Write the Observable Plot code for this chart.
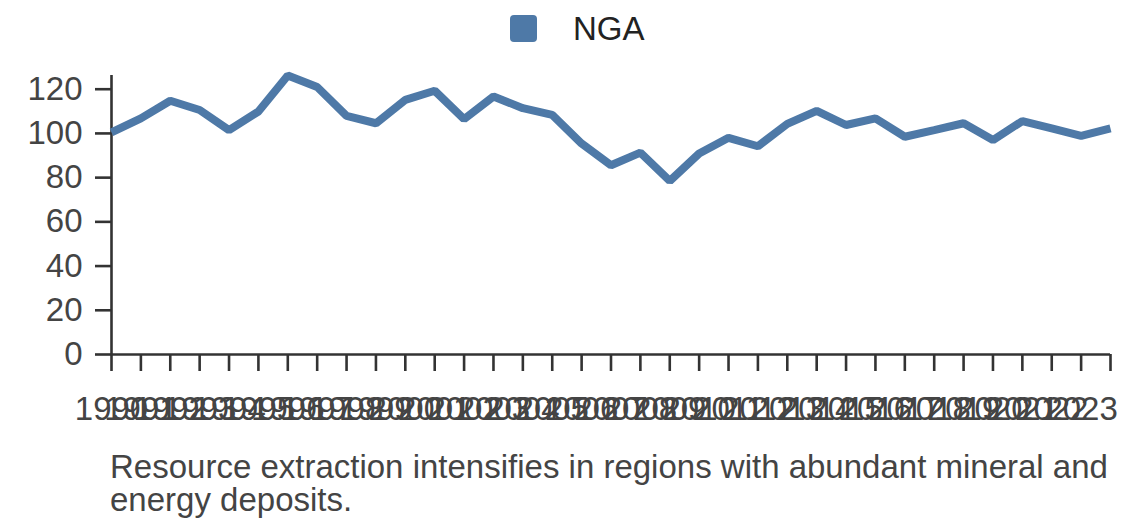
<!DOCTYPE html>
<html>
<head>
<meta charset="utf-8">
<script src="https://cdn.jsdelivr.net/npm/d3@7"></script>
<script src="https://cdn.jsdelivr.net/npm/@observablehq/plot@0.6"></script>
<style>
  html, body { margin: 0; padding: 0; background: #fff; }
  body { width: 1140px; height: 528px; overflow: hidden; font-family: "Liberation Sans", Arial, sans-serif; }
  #legend { height: 57px; display: flex; align-items: center; padding-left: 510px; box-sizing: border-box; }
  #legend .sw { width: 27px; height: 27px; border-radius: 4px; margin-right: 36px; }
  #legend .lb { font-size: 33px; line-height: 33px; color: #222; }
  #chart svg { display: block; }
  #caption { margin-top: 13px; padding-left: 110px; width: 1020px; font-size: 33px; line-height: 33px; color: #444; }
</style>
</head>
<body>
<div id="legend"></div>
<div id="chart"></div>
<div id="caption"></div>
<script>
const seriesName = "NGA";
const seriesColor = "#4e79a7";
const years = [1990, 1991, 1992, 1993, 1994, 1995, 1996, 1997, 1998, 1999,
               2000, 2001, 2002, 2003, 2004, 2005, 2006, 2007, 2008, 2009,
               2010, 2011, 2012, 2013, 2014, 2015, 2016, 2017, 2018, 2019,
               2020, 2021, 2022, 2023, 2024];
const tickLabels = ["1990", "1991", "1992", "1993", "1994", "1995", "1996", "1997", "1998", "1999",
                    "2000", "2001", "2002", "2003", "2004", "2005", "2006", "2007", "2008", "2009",
                    "2010", "2011", "2012", "2013", "2014", "2015", "2016", "2017", "2018", "2019",
                    "2020", "2021", "2022", "2023", ""];
const values = [100.5, 106.8, 114.8, 110.6, 101.5, 109.9, 126.2, 121.0, 107.9, 104.6,
                115.2, 119.3, 106.5, 116.7, 111.4, 108.4, 95.4, 85.6, 91.3, 78.5,
                90.9, 98.0, 94.2, 104.3, 110.2, 103.8, 106.8, 98.5, 101.5, 104.6,
                97.0, 105.6, 102.3, 98.9, 102.3];
const yTicks = [0, 20, 40, 60, 80, 100, 120];
const captionText = "Resource extraction intensifies in regions with abundant mineral and energy deposits.";

const data = years.map((year, i) => ({year, value: values[i], series: seriesName}));

// Legend
const legend = document.getElementById("legend");
const sw = document.createElement("div");
sw.className = "sw";
sw.style.background = seriesColor;
const lb = document.createElement("div");
lb.className = "lb";
lb.textContent = seriesName;
legend.append(sw, lb);

const chart = Plot.plot({
  width: 1140,
  height: 380,
  marginLeft: 111,
  marginRight: 30,
  marginTop: 18,
  marginBottom: 83,
  style: {fontFamily: "'Liberation Sans', Arial, sans-serif", fontSize: "33px", color: "#444", background: "#fff"},
  x: {domain: [years[0], years[years.length - 1]]},
  y: {domain: [0, d3.max(values)]},
  marks: [
    Plot.axisY({ticks: yTicks, tickSize: 16, tickPadding: 13, stroke: "#333", strokeWidth: 2.6, fill: "#444", fontSize: 33, label: null}),
    Plot.axisX({ticks: years, tickFormat: d => tickLabels[years.indexOf(d)], tickSize: 17, tickPadding: 25, stroke: "#333", strokeWidth: 2.6, fill: "#444", fontSize: 33, label: null}),
    Plot.ruleY([0], {stroke: "#333", strokeWidth: 2.6}),
    Plot.ruleX([years[0]], {stroke: "#333", strokeWidth: 2.6}),
    Plot.lineY(data, {x: "year", y: "value", stroke: seriesColor, strokeWidth: 8, strokeLinejoin: "miter", strokeLinecap: "butt"})
  ]
});
document.getElementById("chart").append(chart);
document.getElementById("caption").textContent = captionText;
</script>
</body>
</html>
